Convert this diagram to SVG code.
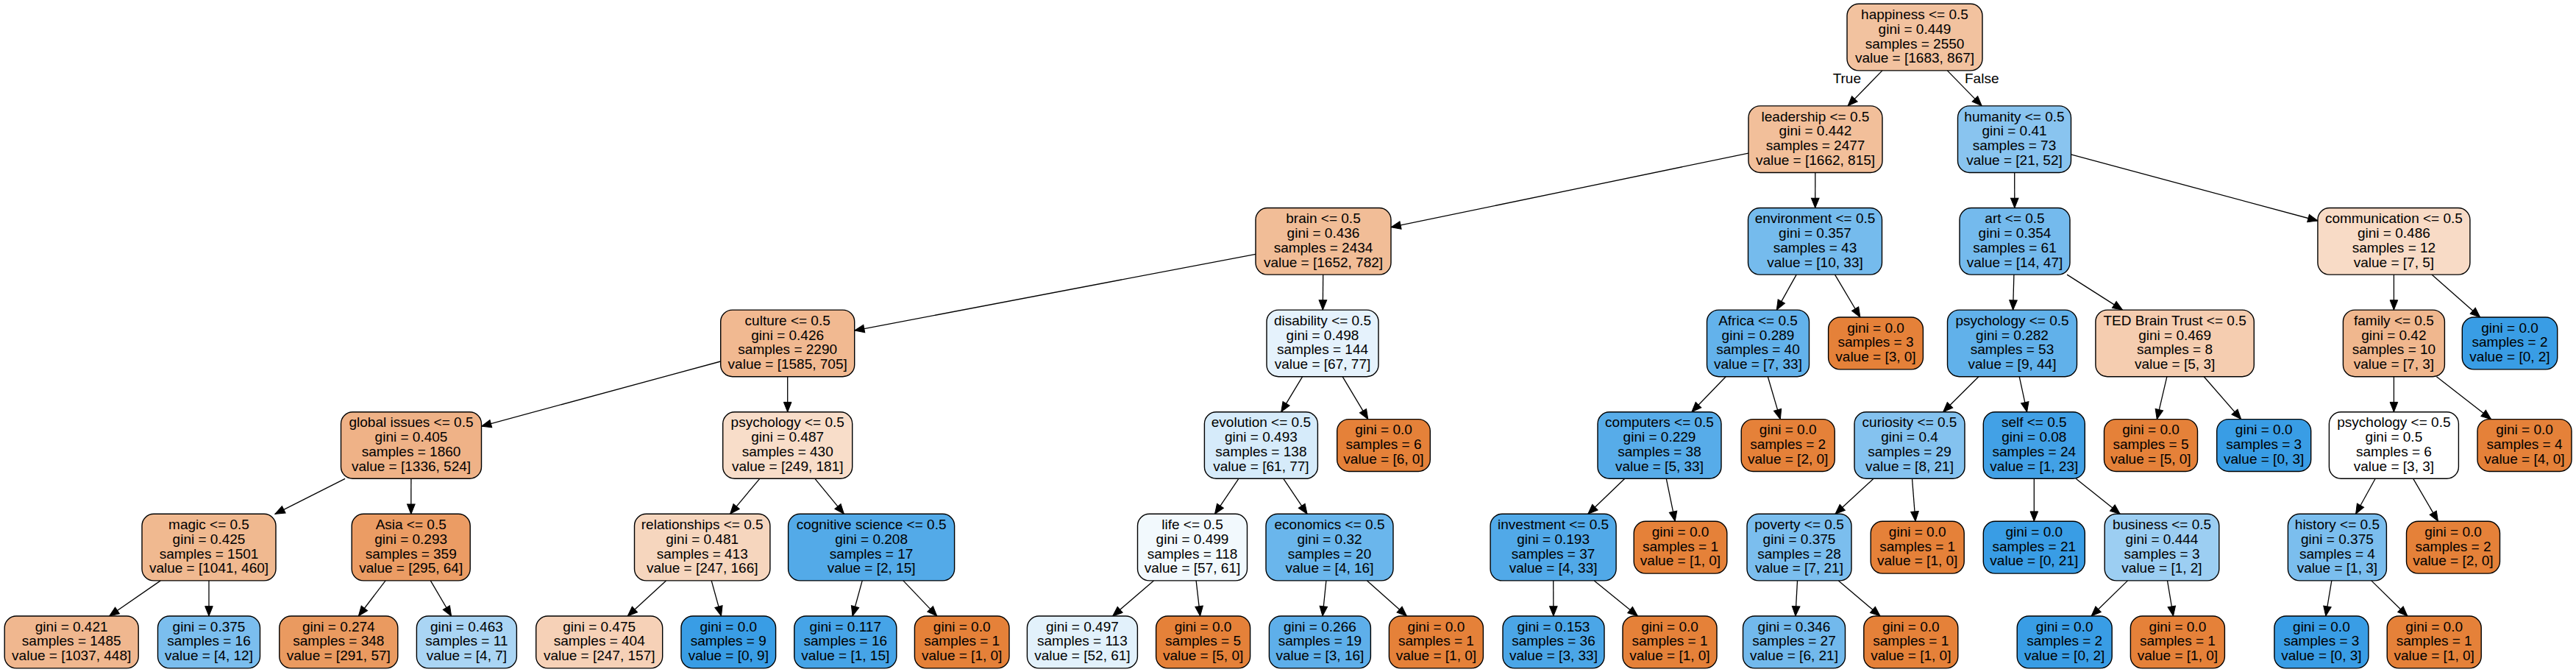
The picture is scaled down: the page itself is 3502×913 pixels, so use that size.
<svg xmlns="http://www.w3.org/2000/svg" width="3502" height="913" viewBox="0 0 3502 913">
<style>
.node rect{stroke:#000;stroke-width:1.4}
.node text{font-family:"Liberation Sans",Arial,sans-serif;font-size:19px;text-anchor:middle;fill:#000}
.o rect{fill:#e58139}
.b rect{fill:#399de5}
.edges line{stroke:#000;stroke-width:1.3;marker-end:url(#arr)}
.lbl{font-family:"Liberation Sans",Arial,sans-serif;font-size:19px;fill:#000}
</style>
<defs>
<marker id="arr" markerUnits="userSpaceOnUse" markerWidth="14" markerHeight="11" refX="13.3" refY="5.3" orient="auto" overflow="visible">
<path d="M0,0 L13.3,5.3 L0,10.6 Z" fill="#000" stroke="#000" stroke-width="1"/>
</marker>
</defs>
<rect x="0" y="0" width="3502" height="913" fill="#fff"/>
<g class="edges">
<line x1="2558.9" y1="95.9" x2="2512.1" y2="143.9"/>
<line x1="2647.3" y1="95.9" x2="2694.2" y2="143.9"/>
<line x1="2377" y1="208.1" x2="1891" y2="308.7"/>
<line x1="2467.8" y1="234.5" x2="2467.7" y2="282.5"/>
<line x1="2738.7" y1="234.5" x2="2738.8" y2="282.5"/>
<line x1="2815.5" y1="209.9" x2="3150.9" y2="300"/>
<line x1="1707" y1="345.3" x2="1161.7" y2="449.1"/>
<line x1="1798.7" y1="373.1" x2="1798.3" y2="421.1"/>
<line x1="979.7" y1="491" x2="654.5" y2="579.1"/>
<line x1="1070.7" y1="511.7" x2="1070.7" y2="559.7"/>
<line x1="1770.7" y1="511.7" x2="1741.7" y2="559.7"/>
<line x1="1825.1" y1="511.7" x2="1859.8" y2="569.6"/>
<line x1="469.1" y1="650.3" x2="373.9" y2="698.3"/>
<line x1="558.9" y1="650.3" x2="558.8" y2="698.3"/>
<line x1="1032.8" y1="650.3" x2="992.6" y2="698.3"/>
<line x1="1107.9" y1="650.3" x2="1147.4" y2="698.3"/>
<line x1="1683.9" y1="650.3" x2="1651.5" y2="698.3"/>
<line x1="1744.8" y1="650.3" x2="1777.1" y2="698.3"/>
<line x1="218.3" y1="788.9" x2="148.6" y2="837"/>
<line x1="284" y1="788.9" x2="284" y2="837"/>
<line x1="524.1" y1="788.9" x2="487.4" y2="837"/>
<line x1="585.3" y1="788.9" x2="613.6" y2="837"/>
<line x1="905.5" y1="788.9" x2="853.2" y2="837"/>
<line x1="967.2" y1="788.9" x2="980.5" y2="837"/>
<line x1="1172.2" y1="788.9" x2="1159" y2="837"/>
<line x1="1227.9" y1="788.9" x2="1273.8" y2="837"/>
<line x1="1568.4" y1="788.9" x2="1512.6" y2="837"/>
<line x1="1626.1" y1="788.9" x2="1631.6" y2="837"/>
<line x1="1802.9" y1="788.9" x2="1798" y2="837"/>
<line x1="1858.5" y1="788.9" x2="1912.5" y2="837"/>
<line x1="2442.2" y1="373.1" x2="2415.3" y2="421.1"/>
<line x1="2494.5" y1="373.1" x2="2528.9" y2="431"/>
<line x1="2346.2" y1="511.7" x2="2299.8" y2="559.7"/>
<line x1="2403.3" y1="511.7" x2="2420.3" y2="569.6"/>
<line x1="2208.8" y1="650.3" x2="2158.8" y2="698.3"/>
<line x1="2265.3" y1="650.3" x2="2277.2" y2="708.2"/>
<line x1="2111.7" y1="788.9" x2="2111.9" y2="837"/>
<line x1="2167.3" y1="788.9" x2="2226.4" y2="837"/>
<line x1="2737.9" y1="373.1" x2="2736.6" y2="421.1"/>
<line x1="2810.1" y1="373.1" x2="2885.5" y2="421.1"/>
<line x1="3254.4" y1="373.1" x2="3254.4" y2="421.1"/>
<line x1="3305.9" y1="373.1" x2="3371.7" y2="431"/>
<line x1="2689.9" y1="511.7" x2="2641.6" y2="559.7"/>
<line x1="2745.2" y1="511.7" x2="2755.6" y2="559.7"/>
<line x1="2945.9" y1="511.7" x2="2932.3" y2="569.6"/>
<line x1="2996.2" y1="511.7" x2="3046.7" y2="569.6"/>
<line x1="3254.4" y1="511.7" x2="3254.4" y2="559.7"/>
<line x1="3312.4" y1="511.7" x2="3386.6" y2="569.6"/>
<line x1="2547" y1="650.3" x2="2495" y2="698.3"/>
<line x1="2599.5" y1="650.3" x2="2604" y2="708.2"/>
<line x1="2765.3" y1="650.3" x2="2765.3" y2="708.2"/>
<line x1="2822.1" y1="650.3" x2="2882.2" y2="698.3"/>
<line x1="3229.2" y1="650.3" x2="3202.6" y2="698.3"/>
<line x1="3280.7" y1="650.3" x2="3314.4" y2="708.2"/>
<line x1="2443.5" y1="788.9" x2="2440.9" y2="837"/>
<line x1="2499.4" y1="788.9" x2="2556" y2="837"/>
<line x1="2892.5" y1="788.9" x2="2843.1" y2="837"/>
<line x1="2946.5" y1="788.9" x2="2954.5" y2="837"/>
<line x1="3169.8" y1="788.9" x2="3161.8" y2="837"/>
<line x1="3223.8" y1="788.9" x2="3272.9" y2="837"/>
<text class="lbl" x="2530" y="113.3" text-anchor="end">True</text>
<text class="lbl" x="2671" y="113.3">False</text>
</g>
<g id="n0" class="node"><rect x="2511" y="5.3" width="184" height="90.6" rx="16" fill="#f2c29f"/><text><tspan x="2603" y="25.9">happiness &lt;= 0.5</tspan><tspan x="2603" y="45.7">gini = 0.449</tspan><tspan x="2603" y="65.5">samples = 2550</tspan><tspan x="2603" y="85.3">value = [1683, 867]</tspan></text></g>
<g id="n1" class="node"><rect x="2377" y="143.9" width="182" height="90.6" rx="16" fill="#f2bf9a"/><text><tspan x="2468" y="164.5">leadership &lt;= 0.5</tspan><tspan x="2468" y="184.3">gini = 0.442</tspan><tspan x="2468" y="204.1">samples = 2477</tspan><tspan x="2468" y="223.9">value = [1662, 815]</tspan></text></g>
<g id="n37" class="node"><rect x="2661.5" y="143.9" width="154" height="90.6" rx="16" fill="#89c4ef"/><text><tspan x="2738.5" y="164.5">humanity &lt;= 0.5</tspan><tspan x="2738.5" y="184.3">gini = 0.41</tspan><tspan x="2738.5" y="204.1">samples = 73</tspan><tspan x="2738.5" y="223.9">value = [21, 52]</tspan></text></g>
<g id="n2" class="node"><rect x="1707" y="282.5" width="184" height="90.6" rx="16" fill="#f1bd97"/><text><tspan x="1799" y="303.1">brain &lt;= 0.5</tspan><tspan x="1799" y="322.9">gini = 0.436</tspan><tspan x="1799" y="342.7">samples = 2434</tspan><tspan x="1799" y="362.5">value = [1652, 782]</tspan></text></g>
<g id="n28" class="node"><rect x="2376.5" y="282.5" width="182" height="90.6" rx="16" fill="#75bbed"/><text><tspan x="2467.5" y="303.1">environment &lt;= 0.5</tspan><tspan x="2467.5" y="322.9">gini = 0.357</tspan><tspan x="2467.5" y="342.7">samples = 43</tspan><tspan x="2467.5" y="362.5">value = [10, 33]</tspan></text></g>
<g id="n38" class="node"><rect x="2664" y="282.5" width="150" height="90.6" rx="16" fill="#74baed"/><text><tspan x="2739" y="303.1">art &lt;= 0.5</tspan><tspan x="2739" y="322.9">gini = 0.354</tspan><tspan x="2739" y="342.7">samples = 61</tspan><tspan x="2739" y="362.5">value = [14, 47]</tspan></text></g>
<g id="n53" class="node"><rect x="3150.9" y="282.5" width="207" height="90.6" rx="16" fill="#f8dbc6"/><text><tspan x="3254.4" y="303.1">communication &lt;= 0.5</tspan><tspan x="3254.4" y="322.9">gini = 0.486</tspan><tspan x="3254.4" y="342.7">samples = 12</tspan><tspan x="3254.4" y="362.5">value = [7, 5]</tspan></text></g>
<g id="n3" class="node"><rect x="979.7" y="421.1" width="182" height="90.6" rx="16" fill="#f1b991"/><text><tspan x="1070.7" y="441.7">culture &lt;= 0.5</tspan><tspan x="1070.7" y="461.5">gini = 0.426</tspan><tspan x="1070.7" y="481.3">samples = 2290</tspan><tspan x="1070.7" y="501.1">value = [1585, 705]</tspan></text></g>
<g id="n19" class="node"><rect x="1722" y="421.1" width="152" height="90.6" rx="16" fill="#e5f2fc"/><text><tspan x="1798" y="441.7">disability &lt;= 0.5</tspan><tspan x="1798" y="461.5">gini = 0.498</tspan><tspan x="1798" y="481.3">samples = 144</tspan><tspan x="1798" y="501.1">value = [67, 77]</tspan></text></g>
<g id="n29" class="node"><rect x="2320.5" y="421.1" width="139" height="90.6" rx="16" fill="#63b2eb"/><text><tspan x="2390" y="441.7">Africa &lt;= 0.5</tspan><tspan x="2390" y="461.5">gini = 0.289</tspan><tspan x="2390" y="481.3">samples = 40</tspan><tspan x="2390" y="501.1">value = [7, 33]</tspan></text></g>
<g id="n36" class="node o"><rect x="2485.6" y="431" width="128.8" height="70.9" rx="16"/><text><tspan x="2550" y="451.6">gini = 0.0</tspan><tspan x="2550" y="471.4">samples = 3</tspan><tspan x="2550" y="491.2">value = [3, 0]</tspan></text></g>
<g id="n39" class="node"><rect x="2647.5" y="421.1" width="176" height="90.6" rx="16" fill="#61b1ea"/><text><tspan x="2735.5" y="441.7">psychology &lt;= 0.5</tspan><tspan x="2735.5" y="461.5">gini = 0.282</tspan><tspan x="2735.5" y="481.3">samples = 53</tspan><tspan x="2735.5" y="501.1">value = [9, 44]</tspan></text></g>
<g id="n50" class="node"><rect x="2848.9" y="421.1" width="215.4" height="90.6" rx="16" fill="#f5cdb0"/><text><tspan x="2956.6" y="441.7">TED Brain Trust &lt;= 0.5</tspan><tspan x="2956.6" y="461.5">gini = 0.469</tspan><tspan x="2956.6" y="481.3">samples = 8</tspan><tspan x="2956.6" y="501.1">value = [5, 3]</tspan></text></g>
<g id="n54" class="node"><rect x="3185.4" y="421.1" width="138" height="90.6" rx="16" fill="#f0b78e"/><text><tspan x="3254.4" y="441.7">family &lt;= 0.5</tspan><tspan x="3254.4" y="461.5">gini = 0.42</tspan><tspan x="3254.4" y="481.3">samples = 10</tspan><tspan x="3254.4" y="501.1">value = [7, 3]</tspan></text></g>
<g id="n61" class="node b"><rect x="3347.3" y="431" width="129.4" height="70.9" rx="16"/><text><tspan x="3412" y="451.6">gini = 0.0</tspan><tspan x="3412" y="471.4">samples = 2</tspan><tspan x="3412" y="491.2">value = [0, 2]</tspan></text></g>
<g id="n4" class="node"><rect x="463.5" y="559.7" width="191" height="90.6" rx="16" fill="#efb287"/><text><tspan x="559" y="580.3">global issues &lt;= 0.5</tspan><tspan x="559" y="600.1">gini = 0.405</tspan><tspan x="559" y="619.9">samples = 1860</tspan><tspan x="559" y="639.7">value = [1336, 524]</tspan></text></g>
<g id="n12" class="node"><rect x="982.7" y="559.7" width="176" height="90.6" rx="16" fill="#f8ddc9"/><text><tspan x="1070.7" y="580.3">psychology &lt;= 0.5</tspan><tspan x="1070.7" y="600.1">gini = 0.487</tspan><tspan x="1070.7" y="619.9">samples = 430</tspan><tspan x="1070.7" y="639.7">value = [249, 181]</tspan></text></g>
<g id="n20" class="node"><rect x="1637.4" y="559.7" width="154" height="90.6" rx="16" fill="#d6ebfa"/><text><tspan x="1714.4" y="580.3">evolution &lt;= 0.5</tspan><tspan x="1714.4" y="600.1">gini = 0.493</tspan><tspan x="1714.4" y="619.9">samples = 138</tspan><tspan x="1714.4" y="639.7">value = [61, 77]</tspan></text></g>
<g id="n27" class="node o"><rect x="1817.7" y="569.6" width="126.6" height="70.9" rx="16"/><text><tspan x="1881" y="590.2">gini = 0.0</tspan><tspan x="1881" y="610">samples = 6</tspan><tspan x="1881" y="629.8">value = [6, 0]</tspan></text></g>
<g id="n30" class="node"><rect x="2172" y="559.7" width="168" height="90.6" rx="16" fill="#57ace9"/><text><tspan x="2256" y="580.3">computers &lt;= 0.5</tspan><tspan x="2256" y="600.1">gini = 0.229</tspan><tspan x="2256" y="619.9">samples = 38</tspan><tspan x="2256" y="639.7">value = [5, 33]</tspan></text></g>
<g id="n35" class="node o"><rect x="2367.2" y="569.6" width="127" height="70.9" rx="16"/><text><tspan x="2430.7" y="590.2">gini = 0.0</tspan><tspan x="2430.7" y="610">samples = 2</tspan><tspan x="2430.7" y="629.8">value = [2, 0]</tspan></text></g>
<g id="n40" class="node"><rect x="2521" y="559.7" width="150" height="90.6" rx="16" fill="#84c2ef"/><text><tspan x="2596" y="580.3">curiosity &lt;= 0.5</tspan><tspan x="2596" y="600.1">gini = 0.4</tspan><tspan x="2596" y="619.9">samples = 29</tspan><tspan x="2596" y="639.7">value = [8, 21]</tspan></text></g>
<g id="n45" class="node"><rect x="2696.3" y="559.7" width="138" height="90.6" rx="16" fill="#42a1e6"/><text><tspan x="2765.3" y="580.3">self &lt;= 0.5</tspan><tspan x="2765.3" y="600.1">gini = 0.08</tspan><tspan x="2765.3" y="619.9">samples = 24</tspan><tspan x="2765.3" y="639.7">value = [1, 23]</tspan></text></g>
<g id="n51" class="node o"><rect x="2860.5" y="569.6" width="127" height="70.9" rx="16"/><text><tspan x="2924" y="590.2">gini = 0.0</tspan><tspan x="2924" y="610">samples = 5</tspan><tspan x="2924" y="629.8">value = [5, 0]</tspan></text></g>
<g id="n52" class="node b"><rect x="3013.7" y="569.6" width="128" height="70.9" rx="16"/><text><tspan x="3077.7" y="590.2">gini = 0.0</tspan><tspan x="3077.7" y="610">samples = 3</tspan><tspan x="3077.7" y="629.8">value = [0, 3]</tspan></text></g>
<g id="n55" class="node"><rect x="3166.4" y="559.7" width="176" height="90.6" rx="16" fill="#ffffff"/><text><tspan x="3254.4" y="580.3">psychology &lt;= 0.5</tspan><tspan x="3254.4" y="600.1">gini = 0.5</tspan><tspan x="3254.4" y="619.9">samples = 6</tspan><tspan x="3254.4" y="639.7">value = [3, 3]</tspan></text></g>
<g id="n60" class="node o"><rect x="3368" y="569.6" width="128" height="70.9" rx="16"/><text><tspan x="3432" y="590.2">gini = 0.0</tspan><tspan x="3432" y="610">samples = 4</tspan><tspan x="3432" y="629.8">value = [4, 0]</tspan></text></g>
<g id="n5" class="node"><rect x="193" y="698.3" width="182" height="90.6" rx="16" fill="#f0b990"/><text><tspan x="284" y="718.9">magic &lt;= 0.5</tspan><tspan x="284" y="738.7">gini = 0.425</tspan><tspan x="284" y="758.5">samples = 1501</tspan><tspan x="284" y="778.3">value = [1041, 460]</tspan></text></g>
<g id="n9" class="node"><rect x="478.2" y="698.3" width="161" height="90.6" rx="16" fill="#eb9c64"/><text><tspan x="558.7" y="718.9">Asia &lt;= 0.5</tspan><tspan x="558.7" y="738.7">gini = 0.293</tspan><tspan x="558.7" y="758.5">samples = 359</tspan><tspan x="558.7" y="778.3">value = [295, 64]</tspan></text></g>
<g id="n13" class="node"><rect x="862.5" y="698.3" width="184.4" height="90.6" rx="16" fill="#f6d6be"/><text><tspan x="954.7" y="718.9">relationships &lt;= 0.5</tspan><tspan x="954.7" y="738.7">gini = 0.481</tspan><tspan x="954.7" y="758.5">samples = 413</tspan><tspan x="954.7" y="778.3">value = [247, 166]</tspan></text></g>
<g id="n16" class="node"><rect x="1071.6" y="698.3" width="226" height="90.6" rx="16" fill="#53aae8"/><text><tspan x="1184.6" y="718.9">cognitive science &lt;= 0.5</tspan><tspan x="1184.6" y="738.7">gini = 0.208</tspan><tspan x="1184.6" y="758.5">samples = 17</tspan><tspan x="1184.6" y="778.3">value = [2, 15]</tspan></text></g>
<g id="n21" class="node"><rect x="1546.5" y="698.3" width="149" height="90.6" rx="16" fill="#f2f9fd"/><text><tspan x="1621" y="718.9">life &lt;= 0.5</tspan><tspan x="1621" y="738.7">gini = 0.499</tspan><tspan x="1621" y="758.5">samples = 118</tspan><tspan x="1621" y="778.3">value = [57, 61]</tspan></text></g>
<g id="n24" class="node"><rect x="1721" y="698.3" width="173" height="90.6" rx="16" fill="#6ab6ec"/><text><tspan x="1807.5" y="718.9">economics &lt;= 0.5</tspan><tspan x="1807.5" y="738.7">gini = 0.32</tspan><tspan x="1807.5" y="758.5">samples = 20</tspan><tspan x="1807.5" y="778.3">value = [4, 16]</tspan></text></g>
<g id="n31" class="node"><rect x="2026.1" y="698.3" width="171" height="90.6" rx="16" fill="#51a9e8"/><text><tspan x="2111.6" y="718.9">investment &lt;= 0.5</tspan><tspan x="2111.6" y="738.7">gini = 0.193</tspan><tspan x="2111.6" y="758.5">samples = 37</tspan><tspan x="2111.6" y="778.3">value = [4, 33]</tspan></text></g>
<g id="n34" class="node o"><rect x="2221.2" y="708.2" width="126.6" height="70.9" rx="16"/><text><tspan x="2284.5" y="728.8">gini = 0.0</tspan><tspan x="2284.5" y="748.6">samples = 1</tspan><tspan x="2284.5" y="768.4">value = [1, 0]</tspan></text></g>
<g id="n41" class="node"><rect x="2375" y="698.3" width="142" height="90.6" rx="16" fill="#7bbeee"/><text><tspan x="2446" y="718.9">poverty &lt;= 0.5</tspan><tspan x="2446" y="738.7">gini = 0.375</tspan><tspan x="2446" y="758.5">samples = 28</tspan><tspan x="2446" y="778.3">value = [7, 21]</tspan></text></g>
<g id="n44" class="node o"><rect x="2543.2" y="708.2" width="127" height="70.9" rx="16"/><text><tspan x="2606.7" y="728.8">gini = 0.0</tspan><tspan x="2606.7" y="748.6">samples = 1</tspan><tspan x="2606.7" y="768.4">value = [1, 0]</tspan></text></g>
<g id="n46" class="node b"><rect x="2696.3" y="708.2" width="138" height="70.9" rx="16"/><text><tspan x="2765.3" y="728.8">gini = 0.0</tspan><tspan x="2765.3" y="748.6">samples = 21</tspan><tspan x="2765.3" y="768.4">value = [0, 21]</tspan></text></g>
<g id="n47" class="node"><rect x="2861.2" y="698.3" width="155.6" height="90.6" rx="16" fill="#9ccef2"/><text><tspan x="2939" y="718.9">business &lt;= 0.5</tspan><tspan x="2939" y="738.7">gini = 0.444</tspan><tspan x="2939" y="758.5">samples = 3</tspan><tspan x="2939" y="778.3">value = [1, 2]</tspan></text></g>
<g id="n56" class="node"><rect x="3110.4" y="698.3" width="134" height="90.6" rx="16" fill="#7bbeee"/><text><tspan x="3177.4" y="718.9">history &lt;= 0.5</tspan><tspan x="3177.4" y="738.7">gini = 0.375</tspan><tspan x="3177.4" y="758.5">samples = 4</tspan><tspan x="3177.4" y="778.3">value = [1, 3]</tspan></text></g>
<g id="n59" class="node o"><rect x="3271.5" y="708.2" width="127" height="70.9" rx="16"/><text><tspan x="3335" y="728.8">gini = 0.0</tspan><tspan x="3335" y="748.6">samples = 2</tspan><tspan x="3335" y="768.4">value = [2, 0]</tspan></text></g>
<g id="n7" class="node"><rect x="6.2" y="837" width="182" height="70.9" rx="16" fill="#f0b78f"/><text><tspan x="97.2" y="857.6">gini = 0.421</tspan><tspan x="97.2" y="877.4">samples = 1485</tspan><tspan x="97.2" y="897.2">value = [1037, 448]</tspan></text></g>
<g id="n8" class="node"><rect x="214.5" y="837" width="139" height="70.9" rx="16" fill="#7bbeee"/><text><tspan x="284" y="857.6">gini = 0.375</tspan><tspan x="284" y="877.4">samples = 16</tspan><tspan x="284" y="897.2">value = [4, 12]</tspan></text></g>
<g id="n10" class="node"><rect x="379.8" y="837" width="161" height="70.9" rx="16" fill="#ea9a60"/><text><tspan x="460.3" y="857.6">gini = 0.274</tspan><tspan x="460.3" y="877.4">samples = 348</tspan><tspan x="460.3" y="897.2">value = [291, 57]</tspan></text></g>
<g id="n11" class="node"><rect x="566.4" y="837" width="136" height="70.9" rx="16" fill="#aad5f4"/><text><tspan x="634.4" y="857.6">gini = 0.463</tspan><tspan x="634.4" y="877.4">samples = 11</tspan><tspan x="634.4" y="897.2">value = [4, 7]</tspan></text></g>
<g id="n14" class="node"><rect x="728.7" y="837" width="172" height="70.9" rx="16" fill="#f6d1b7"/><text><tspan x="814.7" y="857.6">gini = 0.475</tspan><tspan x="814.7" y="877.4">samples = 404</tspan><tspan x="814.7" y="897.2">value = [247, 157]</tspan></text></g>
<g id="n15" class="node b"><rect x="926" y="837" width="128.6" height="70.9" rx="16"/><text><tspan x="990.3" y="857.6">gini = 0.0</tspan><tspan x="990.3" y="877.4">samples = 9</tspan><tspan x="990.3" y="897.2">value = [0, 9]</tspan></text></g>
<g id="n17" class="node"><rect x="1079.8" y="837" width="139" height="70.9" rx="16" fill="#46a4e7"/><text><tspan x="1149.3" y="857.6">gini = 0.117</tspan><tspan x="1149.3" y="877.4">samples = 16</tspan><tspan x="1149.3" y="897.2">value = [1, 15]</tspan></text></g>
<g id="n18" class="node o"><rect x="1243.4" y="837" width="128.6" height="70.9" rx="16"/><text><tspan x="1307.7" y="857.6">gini = 0.0</tspan><tspan x="1307.7" y="877.4">samples = 1</tspan><tspan x="1307.7" y="897.2">value = [1, 0]</tspan></text></g>
<g id="n22" class="node"><rect x="1396.4" y="837" width="150" height="70.9" rx="16" fill="#e2f1fb"/><text><tspan x="1471.4" y="857.6">gini = 0.497</tspan><tspan x="1471.4" y="877.4">samples = 113</tspan><tspan x="1471.4" y="897.2">value = [52, 61]</tspan></text></g>
<g id="n23" class="node o"><rect x="1571.6" y="837" width="128" height="70.9" rx="16"/><text><tspan x="1635.6" y="857.6">gini = 0.0</tspan><tspan x="1635.6" y="877.4">samples = 5</tspan><tspan x="1635.6" y="897.2">value = [5, 0]</tspan></text></g>
<g id="n25" class="node"><rect x="1725.4" y="837" width="138" height="70.9" rx="16" fill="#5eafea"/><text><tspan x="1794.4" y="857.6">gini = 0.266</tspan><tspan x="1794.4" y="877.4">samples = 19</tspan><tspan x="1794.4" y="897.2">value = [3, 16]</tspan></text></g>
<g id="n26" class="node o"><rect x="1888.4" y="837" width="128" height="70.9" rx="16"/><text><tspan x="1952.4" y="857.6">gini = 0.0</tspan><tspan x="1952.4" y="877.4">samples = 1</tspan><tspan x="1952.4" y="897.2">value = [1, 0]</tspan></text></g>
<g id="n32" class="node"><rect x="2043" y="837" width="138" height="70.9" rx="16" fill="#4ba6e7"/><text><tspan x="2112" y="857.6">gini = 0.153</tspan><tspan x="2112" y="877.4">samples = 36</tspan><tspan x="2112" y="897.2">value = [3, 33]</tspan></text></g>
<g id="n33" class="node o"><rect x="2206" y="837" width="128" height="70.9" rx="16"/><text><tspan x="2270" y="857.6">gini = 0.0</tspan><tspan x="2270" y="877.4">samples = 1</tspan><tspan x="2270" y="897.2">value = [1, 0]</tspan></text></g>
<g id="n42" class="node"><rect x="2369.5" y="837" width="139" height="70.9" rx="16" fill="#72b9ec"/><text><tspan x="2439" y="857.6">gini = 0.346</tspan><tspan x="2439" y="877.4">samples = 27</tspan><tspan x="2439" y="897.2">value = [6, 21]</tspan></text></g>
<g id="n43" class="node o"><rect x="2533.8" y="837" width="128" height="70.9" rx="16"/><text><tspan x="2597.8" y="857.6">gini = 0.0</tspan><tspan x="2597.8" y="877.4">samples = 1</tspan><tspan x="2597.8" y="897.2">value = [1, 0]</tspan></text></g>
<g id="n48" class="node b"><rect x="2742.2" y="837" width="129" height="70.9" rx="16"/><text><tspan x="2806.7" y="857.6">gini = 0.0</tspan><tspan x="2806.7" y="877.4">samples = 2</tspan><tspan x="2806.7" y="897.2">value = [0, 2]</tspan></text></g>
<g id="n49" class="node o"><rect x="2896.4" y="837" width="128" height="70.9" rx="16"/><text><tspan x="2960.4" y="857.6">gini = 0.0</tspan><tspan x="2960.4" y="877.4">samples = 1</tspan><tspan x="2960.4" y="897.2">value = [1, 0]</tspan></text></g>
<g id="n57" class="node b"><rect x="3091.9" y="837" width="128" height="70.9" rx="16"/><text><tspan x="3155.9" y="857.6">gini = 0.0</tspan><tspan x="3155.9" y="877.4">samples = 3</tspan><tspan x="3155.9" y="897.2">value = [0, 3]</tspan></text></g>
<g id="n58" class="node o"><rect x="3245.2" y="837" width="128" height="70.9" rx="16"/><text><tspan x="3309.2" y="857.6">gini = 0.0</tspan><tspan x="3309.2" y="877.4">samples = 1</tspan><tspan x="3309.2" y="897.2">value = [1, 0]</tspan></text></g>
</svg>
